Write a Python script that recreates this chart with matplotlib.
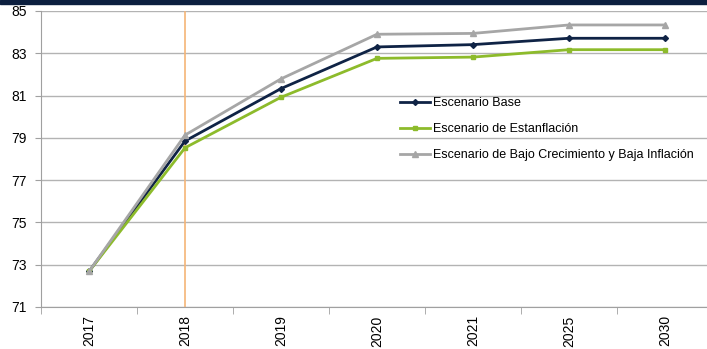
import numpy as np
import matplotlib
matplotlib.use('Agg')
import matplotlib.pyplot as plt
from matplotlib.patches import Rectangle

# data
years = ["2017", "2018", "2019", "2020", "2021", "2025", "2030"]
base = [72.68, 78.85, 81.33, 83.30, 83.41, 83.71, 83.71]
estanflacion = [72.68, 78.53, 80.92, 82.76, 82.82, 83.17, 83.17]
bajo_crec = [72.68, 79.13, 81.79, 83.90, 83.94, 84.34, 84.34]
labels = ["Escenario Base", "Escenario de Estanflación",
          "Escenario de Bajo Crecimiento y Baja Inflación"]
marker_year = "2018"

plt.rcParams['font.family'] = ['Liberation Sans', 'DejaVu Sans']

fig = plt.figure(figsize=(7.07, 3.49), dpi=100)
ax = fig.add_axes([41 / 707, 42 / 349, 672 / 707, 296 / 349])

# dark band at the top
fig.patches.append(Rectangle((0, 345 / 349), 1, 4 / 349, transform=fig.transFigure,
                             color="#0C1F3F", zorder=5))

x = np.arange(len(years))
navy = "#0F2345"
green = "#8DBB2B"
gray = "#A6A6A6"

ax.axvline(years.index(marker_year), ymin=0, ymax=0.995, color="#F5B577", lw=1.2, zorder=1)

l_base, = ax.plot(x, base, color=navy, lw=2, marker="D", ms=3, zorder=3)
l_est, = ax.plot(x, estanflacion, color=green, lw=2, marker="s", ms=3.5, zorder=3)
l_bajo, = ax.plot(x, bajo_crec, color=gray, lw=2, marker="^", ms=4, zorder=4)

ax.set_xlim(-0.5, len(years) - 0.5)
ax.set_ylim(71, 85)
ax.set_yticks(np.arange(71, 86, 2))
ax.yaxis.grid(True, color="#B3B3B3", lw=1)
ax.set_axisbelow(True)

ax.set_xticks(x)
ax.set_xticklabels(years, rotation=90, fontsize=10)
ax.set_xticks(np.arange(-0.5, len(years), 1), minor=True)
ax.tick_params(axis="x", which="major", length=0, pad=6)
ax.tick_params(axis="x", which="minor", length=5, color="#A0A0A0", direction="out")
ax.tick_params(axis="y", length=4, color="#A0A0A0", labelsize=10, pad=6)

for s in ["top", "right"]:
    ax.spines[s].set_visible(False)
ax.spines["left"].set_color("#A0A0A0")
ax.spines["bottom"].set_color("#A0A0A0")

ax.legend([l_base, l_est, l_bajo], labels, loc="upper left",
          bbox_to_anchor=(348 / 672, 221 / 296), frameon=False, fontsize=9,
          handlelength=2.4, handletextpad=0.2, labelspacing=1.12)

plt.savefig("out.png", dpi=100)
